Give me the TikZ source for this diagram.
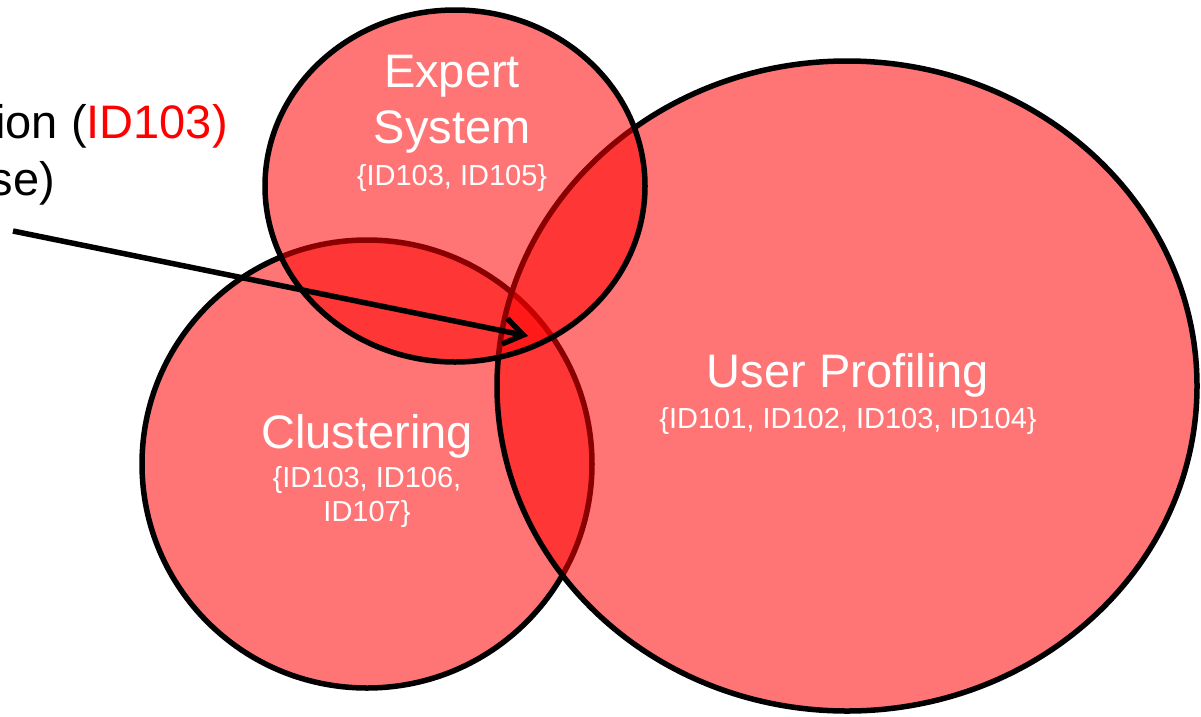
\documentclass[tikz,border=0pt]{standalone}
\usepackage{fontspec}
\setmainfont{Liberation Sans}
\usetikzlibrary{arrows.meta}
\tikzset{
  setshape/.style={fill=red, fill opacity=0.54, draw=black, line width=5.5pt},
  bigtxt/.style={text=white, font=\fontsize{47}{56}\selectfont, anchor=base, inner sep=0pt},
  smalltxt/.style={text=white, font=\fontsize{29}{34}\selectfont, anchor=base, inner sep=0pt},
  notetxt/.style={text=black, font=\fontsize{47}{56}\selectfont, anchor=base east, inner sep=0pt},
  pointer/.style={draw=black, line width=5.5pt, -{Straight Barb[length=19pt,width=26pt]}}
}
\begin{document}
\begin{tikzpicture}[x=1pt,y=-1pt]
\useasboundingbox (0,0) rectangle (1201,716);
\clip (0,0) rectangle (1201,716);
% sets
\path[setshape] (367,464) ellipse [x radius=225, y radius=224];
\path[setshape] (847,386) ellipse [x radius=350, y radius=325];
\path[setshape] (455,186) ellipse [x radius=190, y radius=176];
% labels
\node[bigtxt] (es1) at (452,87) {Expert};
\node[bigtxt] (es2) at (452,143) {System};
\node[smalltxt] (es3) at (452,185) {\{ID103, ID105\}};
\node[bigtxt] (up1) at (848,387) {User Profiling};
\node[smalltxt] (up2) at (848,428) {\{ID101, ID102, ID103, ID104\}};
\node[bigtxt] (cl1) at (367,448) {Clustering};
\node[smalltxt] (cl2) at (367,487) {\{ID103, ID106,};
\node[smalltxt] (cl3) at (367,521) {ID107\}};
% note
\node[notetxt] (n1) at (228,138) {ion (\textcolor{red}{ID103)}};
\node[notetxt] (n2) at (55,195) {se)};
% pointer
\coordinate (pstart) at (13,231);
\coordinate (pend) at (528,336);
\draw[pointer] (pstart) -- (pend);
\end{tikzpicture}
\end{document}
